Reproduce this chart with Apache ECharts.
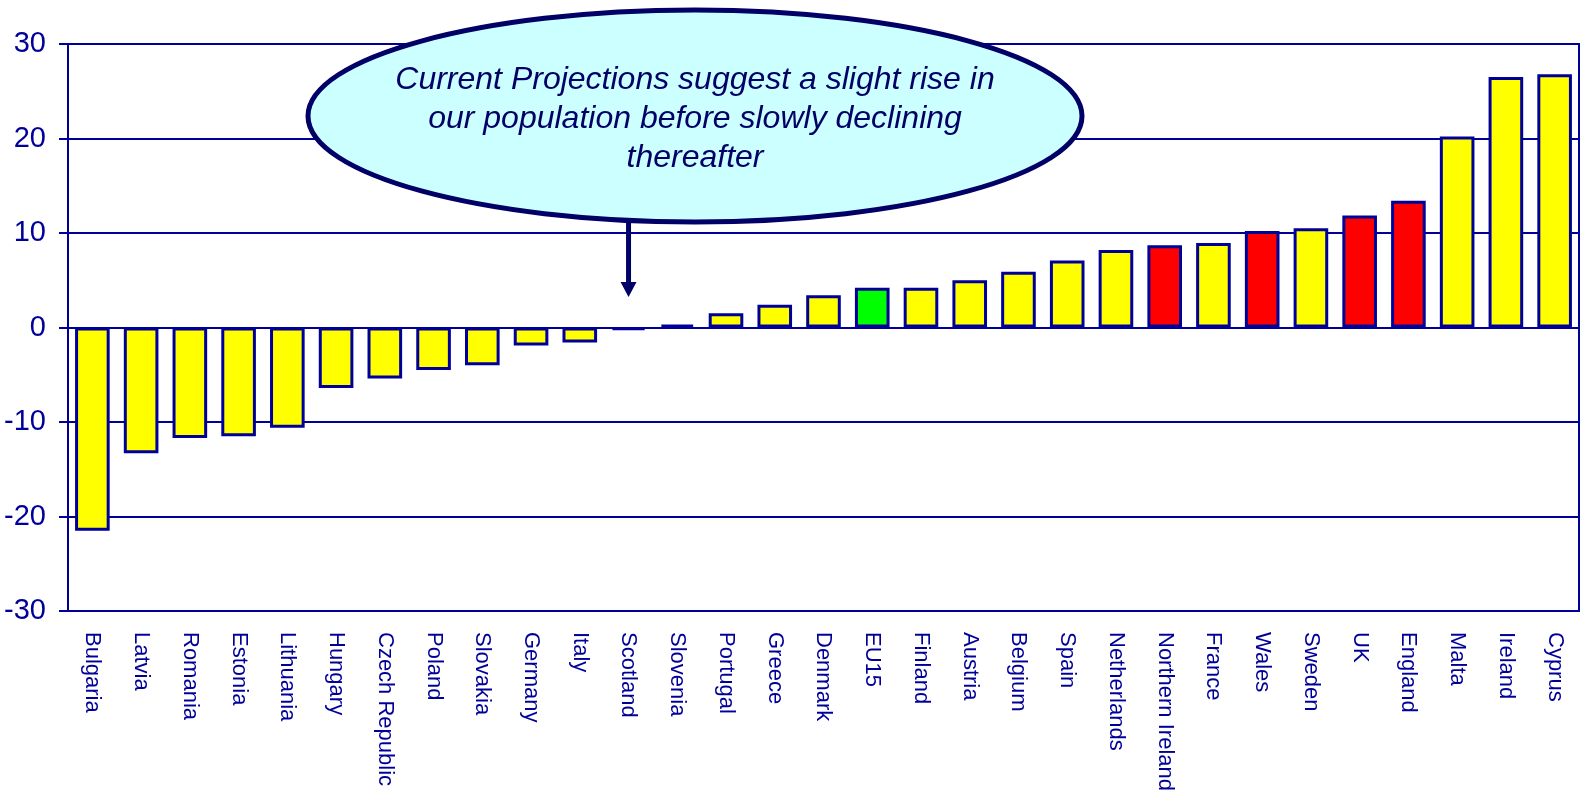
<!DOCTYPE html>
<html>
<head>
<meta charset="utf-8">
<script src="https://cdn.jsdelivr.net/npm/echarts@6/dist/echarts.min.js"></script>
<style>
  html, body { margin: 0; padding: 0; background: #ffffff; }
  #chart { width: 1580px; height: 797px; }
</style>
</head>
<body>
<div id="chart"></div>
<script>
const categories = ['Bulgaria','Latvia','Romania','Estonia','Lithuania','Hungary','Czech Republic','Poland','Slovakia','Germany','Italy','Scotland','Slovenia','Portugal','Greece','Denmark','EU15','Finland','Austria','Belgium','Spain','Netherlands','Northern Ireland','France','Wales','Sweden','UK','England','Malta','Ireland','Cyprus'];
const values = [-21.5,-13.3,-11.7,-11.5,-10.6,-6.4,-5.4,-4.5,-4.0,-1.9,-1.6,-0.25,0.3,1.5,2.4,3.4,4.2,4.2,5.0,5.9,7.1,8.2,8.7,8.95,10.2,10.5,11.85,13.4,20.2,26.5,26.8];
const yTicks = [-30,-20,-10,0,10,20,30];
const ukNations = ['Northern Ireland','Wales','UK','England'];
const benchmark = 'EU15';
const annotationLines = ['Current Projections suggest a slight rise in','our population before slowly declining','thereafter'];
const annotationTarget = 'Scotland';

const NAVY = '#000099';
const DARK = '#000066';

const barData = categories.map((c, i) => ({
  value: values[i],
  itemStyle: { color: c === benchmark ? '#00ff00' : (ukNations.includes(c) ? '#ff0000' : '#ffff00') }
}));

const chart = echarts.init(document.getElementById('chart'), null, { renderer: 'canvas' });
chart.setOption({
  animation: false,
  backgroundColor: '#ffffff',
  grid: { left: 68, right: 1, top: 44, bottom: 186, show: true, borderColor: NAVY, borderWidth: 2, backgroundColor: 'transparent' },
  xAxis: {
    type: 'category',
    data: categories,
    axisLine: { onZero: false, lineStyle: { color: NAVY, width: 2 } },
    axisTick: { show: false },
    axisLabel: { rotate: -90, margin: 21, color: NAVY, fontFamily: 'Liberation Sans, Arial, sans-serif', fontSize: 22, interval: 0 }
  },
  yAxis: {
    type: 'value',
    min: yTicks[0], max: yTicks[yTicks.length - 1], interval: 10,
    axisLine: { show: true, lineStyle: { color: NAVY, width: 2 } },
    axisTick: { show: true, length: 9, lineStyle: { color: NAVY, width: 2 } },
    axisLabel: { margin: 22, color: NAVY, fontFamily: "'Liberation Sans Narrow', 'Liberation Sans', Arial, sans-serif", fontSize: 29 },
    splitLine: { show: true, lineStyle: { color: NAVY, width: 2 } }
  },
  series: [{
    type: 'bar',
    data: barData,
    barCategoryGap: '29%',
    itemStyle: { borderColor: NAVY, borderWidth: 3 }
  }]
});

const tipX = chart.convertToPixel({ xAxisIndex: 0 }, annotationTarget);
const tipY = 297;
const cx = 695, cy = 116, rx = 387, ry = 106;
chart.setOption({
  graphic: [
    { type: 'line', z: 100, shape: { x1: tipX, y1: cy + ry - 2, x2: tipX, y2: tipY - 14 }, style: { stroke: DARK, lineWidth: 5 } },
    { type: 'polygon', z: 100, shape: { points: [[tipX - 8, tipY - 15], [tipX + 8, tipY - 15], [tipX, tipY]] }, style: { fill: DARK } },
    { type: 'ellipse', z: 101, shape: { cx: cx, cy: cy, rx: rx, ry: ry }, style: { fill: '#ccffff', stroke: DARK, lineWidth: 5 } },
    { type: 'text', z: 102, x: cx, y: cy + 3, style: {
        text: annotationLines.join('\n'), fill: DARK, fontSize: 32, fontStyle: 'italic',
        fontFamily: 'Liberation Sans, Arial, sans-serif', align: 'center', verticalAlign: 'middle', lineHeight: 39
    } }
  ]
});
</script>
</body>
</html>
